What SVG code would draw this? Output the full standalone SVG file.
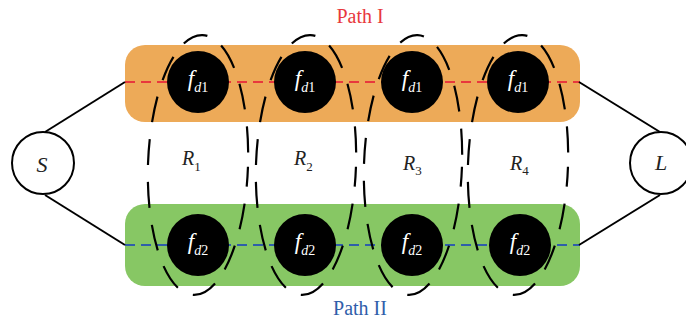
<svg xmlns="http://www.w3.org/2000/svg" width="686" height="320" viewBox="0 0 686 320">
  <style>
    .band-top { fill: #EDAA58; }
    .band-bot { fill: #87C764; }
    .path-top { stroke: #E8383D; stroke-width: 2.2; stroke-dasharray: 10 6; fill: none; }
    .path-bot { stroke: #2F5EAA; stroke-width: 2.2; stroke-dasharray: 10 6; fill: none; }
    .link { stroke: #000; stroke-width: 2; fill: none; }
    .term { fill: #fff; stroke: #000; stroke-width: 2; }
    .fn { fill: #000; }
    .region { fill: none; stroke: #000; stroke-width: 2.2; stroke-dasharray: 26 17; stroke-dashoffset: 6; }
    .lbl { font-family: "Liberation Serif", "Times New Roman", serif; font-style: italic; fill: #222; }
    .flbl { font-family: "Liberation Serif", "Times New Roman", serif; font-style: italic; fill: #fff; }
    .up { font-style: normal; }
    .title { font-family: "Liberation Serif", "Times New Roman", serif; font-size: 20px; text-anchor: middle; }
  </style>

  <!-- path bands -->
  <g id="band-path1"><rect class="band-top" x="125" y="45" width="455" height="77" rx="20"/></g>
  <g id="band-path2"><rect class="band-bot" x="125" y="204" width="455" height="82" rx="20"/></g>

  <!-- connectors -->
  <g id="connectors">
    <line class="path-top" x1="125" y1="82" x2="580" y2="82"/>
    <line class="path-bot" x1="125" y1="245" x2="580" y2="245"/>
    <line class="link" x1="45" y1="132" x2="125" y2="82"/>
    <line class="link" x1="45" y1="195" x2="125" y2="245"/>
    <line class="link" x1="579" y1="82" x2="660" y2="132"/>
    <line class="link" x1="579" y1="245" x2="660" y2="195"/>
  </g>

  <!-- source and load -->
  <g id="node-S">
    <circle class="term" cx="43" cy="163" r="31"/>
    <text class="lbl" x="42" y="172" font-size="22" text-anchor="middle">S</text>
  </g>
  <g id="node-L">
    <circle class="term" cx="661" cy="163" r="31"/>
    <text class="lbl" x="661" y="170" font-size="22" text-anchor="middle">L</text>
  </g>

  <!-- path I functions -->
  <g id="f1-1"><circle class="fn" cx="198" cy="82" r="31"/>
    <text class="flbl" x="198" y="86" font-size="23" text-anchor="middle">f<tspan font-size="14" dy="6">d</tspan><tspan class="up" font-size="14">1</tspan></text></g>
  <g id="f1-2"><circle class="fn" cx="305" cy="82" r="31"/>
    <text class="flbl" x="305" y="86" font-size="23" text-anchor="middle">f<tspan font-size="14" dy="6">d</tspan><tspan class="up" font-size="14">1</tspan></text></g>
  <g id="f1-3"><circle class="fn" cx="412" cy="82" r="31"/>
    <text class="flbl" x="412" y="86" font-size="23" text-anchor="middle">f<tspan font-size="14" dy="6">d</tspan><tspan class="up" font-size="14">1</tspan></text></g>
  <g id="f1-4"><circle class="fn" cx="518" cy="82" r="31"/>
    <text class="flbl" x="518" y="86" font-size="23" text-anchor="middle">f<tspan font-size="14" dy="6">d</tspan><tspan class="up" font-size="14">1</tspan></text></g>

  <!-- path II functions -->
  <g id="f2-1"><circle class="fn" cx="198" cy="245" r="31"/>
    <text class="flbl" x="198" y="249" font-size="23" text-anchor="middle">f<tspan font-size="14" dy="6">d</tspan><tspan class="up" font-size="14">2</tspan></text></g>
  <g id="f2-2"><circle class="fn" cx="305" cy="245" r="31"/>
    <text class="flbl" x="305" y="249" font-size="23" text-anchor="middle">f<tspan font-size="14" dy="6">d</tspan><tspan class="up" font-size="14">2</tspan></text></g>
  <g id="f2-3"><circle class="fn" cx="412" cy="245" r="31"/>
    <text class="flbl" x="412" y="249" font-size="23" text-anchor="middle">f<tspan font-size="14" dy="6">d</tspan><tspan class="up" font-size="14">2</tspan></text></g>
  <g id="f2-4"><circle class="fn" cx="520" cy="245" r="31"/>
    <text class="flbl" x="520" y="249" font-size="23" text-anchor="middle">f<tspan font-size="14" dy="6">d</tspan><tspan class="up" font-size="14">2</tspan></text></g>

  <!-- regions -->
  <g id="region-R1">
    <ellipse class="region" cx="198" cy="165" rx="50" ry="130" transform="rotate(2 198 165)"/>
    <text class="lbl" x="182" y="165" font-size="20">R<tspan class="up" font-size="13" dy="6">1</tspan></text>
  </g>
  <g id="region-R2">
    <ellipse class="region" cx="306" cy="165" rx="50" ry="130" transform="rotate(2 306 165)"/>
    <text class="lbl" x="294" y="165" font-size="20">R<tspan class="up" font-size="13" dy="6">2</tspan></text>
  </g>
  <g id="region-R3">
    <ellipse class="region" cx="413" cy="165" rx="49" ry="130" transform="rotate(2 413 165)"/>
    <text class="lbl" x="403" y="170" font-size="20">R<tspan class="up" font-size="13" dy="5">3</tspan></text>
  </g>
  <g id="region-R4">
    <ellipse class="region" cx="518" cy="165" rx="50" ry="130" transform="rotate(2 518 165)"/>
    <text class="lbl" x="510" y="170" font-size="20">R<tspan class="up" font-size="13" dy="5">4</tspan></text>
  </g>

  <!-- path titles -->
  <text class="title" x="360" y="23" fill="#E8383D">Path I</text>
  <text class="title" x="360" y="315" fill="#2F5EAA">Path II</text>
</svg>
